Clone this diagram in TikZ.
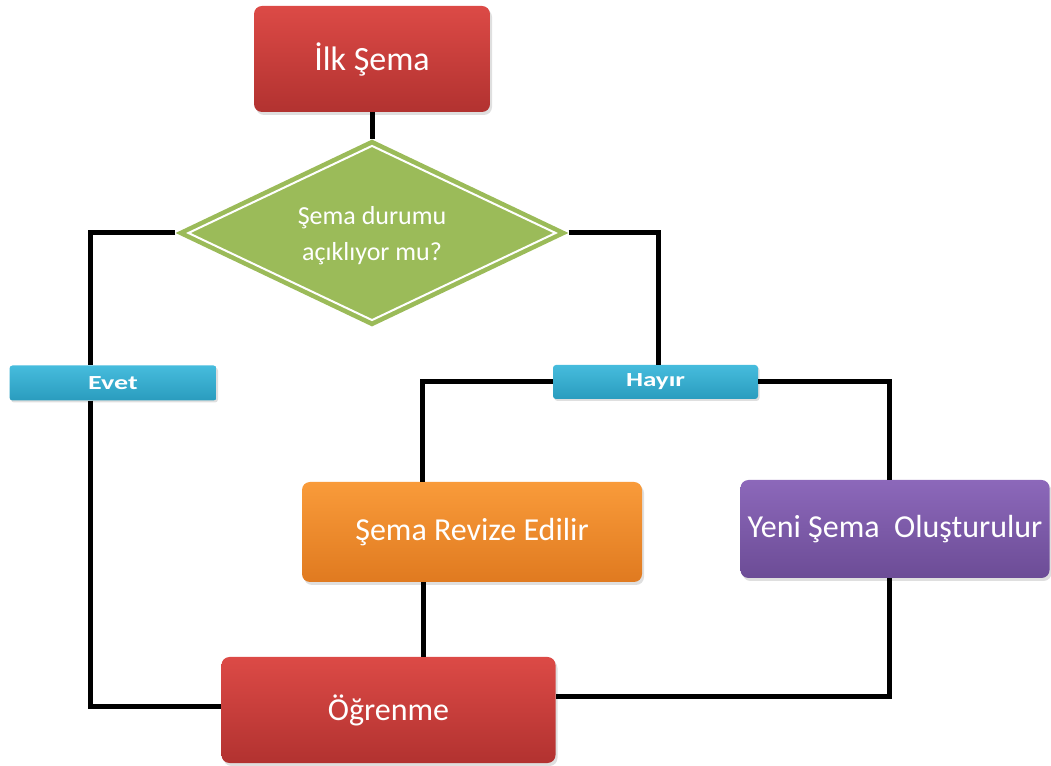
\documentclass[tikz,border=0pt]{standalone}
\usepackage{fontspec}
\setmainfont{Carlito}
\usetikzlibrary{shapes.geometric,shadows}

\definecolor{redTop}{HTML}{DC4A46}
\definecolor{redBot}{HTML}{B23230}
\definecolor{orgTop}{HTML}{F99B3A}
\definecolor{orgBot}{HTML}{E07A20}
\definecolor{purTop}{HTML}{8C68BA}
\definecolor{purBot}{HTML}{6C4C96}
\definecolor{cyaTop}{HTML}{46BCDD}
\definecolor{cyaBot}{HTML}{2A9CBE}
\definecolor{diaGreen}{HTML}{9BBB59}

\tikzset{
  box/.style={rectangle, rounded corners=8pt, text=white, inner sep=0pt,
    font=\fontsize{32}{38}\selectfont,
    drop shadow={shadow xshift=2pt, shadow yshift=-3pt, opacity=0.25}},
  redbox/.style={box, top color=redTop, bottom color=redBot},
  orangebox/.style={box, top color=orgTop, bottom color=orgBot},
  purplebox/.style={box, top color=purTop, bottom color=purBot},
  tagbox/.style={rectangle, rounded corners=3pt, text=white, inner sep=0pt,
    font=\bfseries\fontsize{20}{24}\selectfont,
    top color=cyaTop, bottom color=cyaBot,
    drop shadow={shadow xshift=1.5pt, shadow yshift=-2pt, opacity=0.25}},
  decision/.style={diamond, fill=diaGreen, inner sep=0pt, text=white,
    align=center, font=\fontsize{26}{36}\selectfont},
  decisionrim/.style={diamond, draw=white, line width=2pt, inner sep=0pt},
  link/.style={line width=5pt, black}
}

\begin{document}
\begin{tikzpicture}[x=1pt,y=1pt]
  \useasboundingbox (0,0) rectangle (1051,765);

  % process steps
  \node[redbox, minimum width=236pt, minimum height=106pt, font=\fontsize{34}{40}\selectfont] (ilk) at (372,706) {İlk Şema};
  \node[decision, minimum width=393pt, minimum height=187pt] (karar) at (372,532) {};
  \node[decisionrim, minimum width=368pt, minimum height=175pt] (kararrim) at (karar.center) {};
  \node[text=white, align=center, font=\fontsize{26}{36}\selectfont] (kararmetin) at (372,529)
    {Şema durumu\\açıklıyor mu?};
  \node[tagbox, minimum width=207pt, minimum height=35pt] (evet) at (113,382) {\scalebox{1.4}[1]{Evet}};
  \node[tagbox, minimum width=205pt, minimum height=34pt] (hayir) at (655.5,383) {\scalebox{1.35}[1]{Hayır}};
  \node[orangebox, minimum width=340pt, minimum height=100pt] (revize) at (472,233) {Şema Revize Edilir};
  \node[purplebox, minimum width=309pt, minimum height=98pt] (yeni) at (895,236) {Yeni Şema \ Oluşturulur};
  \node[redbox, minimum width=334pt, minimum height=106pt] (ogr) at (388.5,55) {Öğrenme};

  % connectors
  \draw[link] (ilk.south) -- (karar.north);
  \draw[link] (karar.west) -| ([xshift=-23pt]evet.north);
  \draw[link] (karar.east) -| ([xshift=2.5pt]hayir.north);
  \draw[link] (hayir.west) -| ([xshift=-50pt]revize.north);
  \draw[link] (hayir.east) -| ([xshift=-6pt]yeni.north);
  \draw[link] ([xshift=-49pt]revize.south) -- ([xshift=-49pt]revize.south |- ogr.north);
  \draw[link] ([xshift=-23pt]evet.south) |- ([yshift=3pt]ogr.west);
  \draw[link] ([xshift=-6pt]yeni.south) |- ([yshift=13pt]ogr.east);
\end{tikzpicture}
\end{document}
